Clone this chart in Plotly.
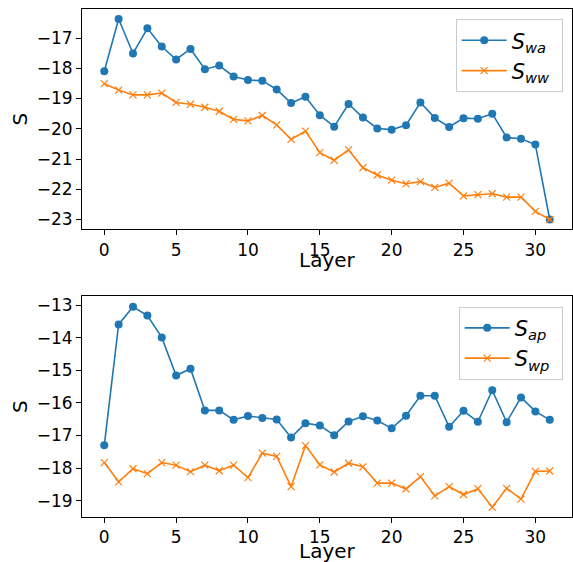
import plotly.graph_objects as go
from plotly.subplots import make_subplots

layers = list(range(32))

s_wa = [-18.10, -16.37, -17.51, -16.68, -17.28, -17.71, -17.36, -18.03, -17.91, -18.27,
        -18.39, -18.41, -18.70, -19.15, -18.94, -19.55, -19.93, -19.18, -19.63, -19.99,
        -20.03, -19.88, -19.13, -19.64, -19.94, -19.65, -19.67, -19.50, -20.29, -20.33,
        -20.52, -23.00]
s_ww = [-18.51, -18.72, -18.88, -18.88, -18.82, -19.13, -19.19, -19.29, -19.42, -19.69,
        -19.74, -19.56, -19.87, -20.35, -20.08, -20.79, -21.04, -20.70, -21.29, -21.53,
        -21.70, -21.82, -21.75, -21.94, -21.80, -22.22, -22.18, -22.15, -22.26, -22.26,
        -22.73, -23.00]
s_ap = [-17.30, -13.59, -13.05, -13.32, -13.99, -15.16, -14.95, -16.23, -16.23, -16.52,
        -16.40, -16.46, -16.51, -17.06, -16.62, -16.69, -16.99, -16.57, -16.41, -16.54,
        -16.78, -16.39, -15.78, -15.78, -16.73, -16.24, -16.58, -15.61, -16.59, -15.83,
        -16.26, -16.52]
s_wp = [-17.83, -18.42, -18.02, -18.17, -17.83, -17.91, -18.11, -17.91, -18.08, -17.91,
        -18.29, -17.54, -17.64, -18.57, -17.31, -17.90, -18.12, -17.85, -17.96, -18.46,
        -18.46, -18.64, -18.26, -18.85, -18.57, -18.81, -18.63, -19.20, -18.62, -18.95,
        -18.10, -18.09]

x_ticks = [0, 5, 10, 15, 20, 25, 30]
top_yticks = [-17, -18, -19, -20, -21, -22, -23]
bot_yticks = [-13, -14, -15, -16, -17, -18, -19]

BLUE = "#1f77b4"
ORANGE = "#ff7f0e"
FONT = "DejaVu Sans"

fig = make_subplots(rows=2, cols=1, vertical_spacing=0.13)

def add(y, name, color, circle, row, legend):
    if circle:
        marker = dict(symbol="circle", size=8, color=color)
    else:
        marker = dict(symbol="x-thin", size=7, color=color, line=dict(width=1.2, color=color))
    fig.add_trace(go.Scatter(x=layers, y=y, mode="lines+markers", name=name,
                             line=dict(color=color, width=1.6), marker=marker,
                             legend=legend), row=row, col=1)

add(s_wa, "<i>S</i><sub><i>wa</i></sub>&nbsp;", BLUE, True, 1, "legend")
add(s_ww, "<i>S</i><sub><i>ww</i></sub>&nbsp;", ORANGE, False, 1, "legend")
add(s_ap, "<i>S</i><sub><i>ap</i></sub>&nbsp;", BLUE, True, 2, "legend2")
add(s_wp, "<i>S</i><sub><i>wp</i></sub>&nbsp;", ORANGE, False, 2, "legend2")

axis_common = dict(showgrid=False, zeroline=False, showline=True, linecolor="black",
                   linewidth=1, mirror=True, ticks="outside", ticklen=5, tickcolor="black",
                   automargin=False,
                   tickfont=dict(family=FONT, size=17, color="black"))

fig.update_xaxes(**axis_common, range=[-1.55, 32.55], tickvals=x_ticks)
fig.update_yaxes(**axis_common, title=dict(text="S", font=dict(family=FONT, size=20, color="black"), standoff=3))
fig.update_yaxes(range=[-23.33, -16.04], tickvals=top_yticks, row=1, col=1)
fig.update_yaxes(range=[-19.5, -12.72], tickvals=bot_yticks, row=2, col=1)
fig.update_layout(
    yaxis=dict(domain=[0.566, 1.0]),
    yaxis2=dict(domain=[0.0, 0.435]),
)

title_font = dict(family=FONT, size=20, color="black")
for ypos in (0.505, -0.066):
    fig.add_annotation(text="Layer", xref="paper", yref="paper", x=0.5, y=ypos,
                       xanchor="center", yanchor="middle", showarrow=False, font=title_font)

legend_common = dict(bgcolor="rgba(255,255,255,0.8)", bordercolor="#cccccc", borderwidth=1,
                     font=dict(family=FONT, size=21, color="black"), itemwidth=45,
                     xanchor="right", yanchor="top", tracegroupgap=2)
fig.update_layout(
    width=573, height=562,
    margin=dict(l=82, r=1, t=9, b=45),
    plot_bgcolor="white", paper_bgcolor="white",
    legend=dict(**legend_common, x=0.981, y=0.98),
    legend2=dict(**legend_common, x=0.981, y=0.414),
    showlegend=True,
)

fig.write_html("out.html")
